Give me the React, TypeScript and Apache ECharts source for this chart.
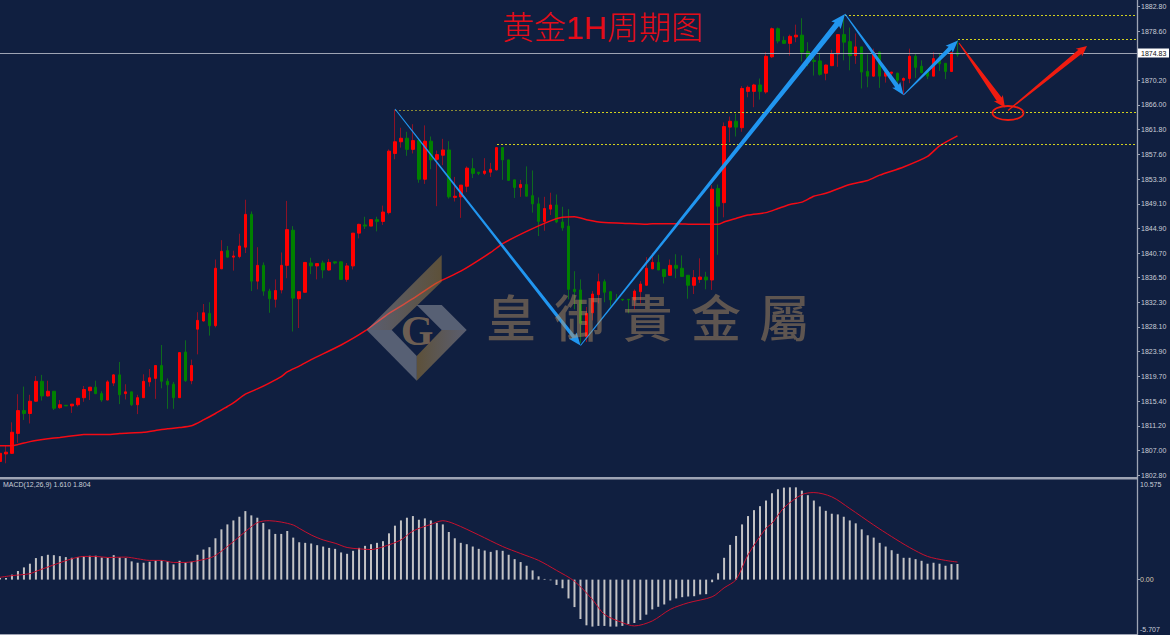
import React, { useEffect, useRef } from "react";
import * as echarts from "echarts";

const opens = [
  1805.1,1806.4,1806.5,1809.9,1813.8,1813.3,1815.4,1818.8,1816.3,1817.1,
  1814.3,1814.7,1814.6,1814.8,1816.0,1817.2,1817.8,1816.7,1815.6,1818.5,
  1819.9,1816.7,1817.0,1814.8,1816.0,1818.7,1819.3,1821.5,1818.8,1818.3,
  1816.0,1823.8,1818.9,1827.7,1829.1,1830.4,1828.3,1838.0,1841.1,1840.0,
  1840.1,1841.7,1847.3,1835.9,1838.6,1834.2,1832.8,1834.4,1838.6,1844.6,
  1832.9,1834.0,1839.0,1838.5,1839.0,1837.8,1839.2,1839.2,1836.2,1838.5,
  1844.1,1845.5,1845.3,1846.4,1846.1,1847.6,1857.7,1859.7,1860.3,1858.4,
  1859.9,1853.3,1859.8,1856.7,1857.4,1858.3,1850.2,1850.3,1852.1,1855.1,
  1854.5,1854.3,1854.5,1854.9,1858.7,1856.6,1853.2,1851.9,1852.4,1850.5,
  1849.1,1846.1,1848.2,1848.9,1846.0,1845.3,1834.5,1834.4,1826.4,1830.5,
  1833.6,1835.8,1834.1,1832.8,1832.8,1832.8,1832.7,1834.1,1835.2,1838.0,
  1839.1,1837.9,1836.9,1838.6,1838.1,1836.9,1835.2,1836.2,1836.6,1836.1,
  1851.7,1849.3,1862.2,1863.2,1862.1,1868.3,1868.3,1869.4,1868.2,1874.2,
  1879.0,1877.0,1876.5,1877.6,1877.9,1875.1,1873.6,1873.5,1871.4,1872.7,
  1874.7,1878.0,1876.8,1874.4,1875.9,1871.7,1870.9,1875.0,1870.9,1871.4,
  1871.4,1870.2,1870.5,1874.3,1872.6,1871.6,1870.9,1873.9,1873.1,1871.7,1874.9,
];
const closes = [
  1806.5,1806.7,1810.1,1813.8,1813.3,1815.4,1818.8,1816.3,1817.1,1814.2,
  1814.8,1814.6,1814.9,1815.9,1817.4,1817.8,1816.7,1815.6,1818.7,1819.9,
  1816.5,1817.0,1814.8,1816.0,1818.8,1819.4,1821.5,1818.8,1818.2,1816.0,
  1823.7,1818.9,1821.5,1829.2,1830.5,1828.3,1838.1,1841.0,1840.0,1840.2,
  1841.9,1847.3,1835.9,1838.6,1834.2,1832.9,1834.3,1838.6,1844.7,1833.0,
  1834.1,1839.1,1838.5,1838.9,1837.8,1839.1,1839.0,1836.2,1838.5,1844.1,
  1845.6,1845.3,1846.4,1846.1,1847.7,1858.1,1859.7,1860.3,1858.4,1859.9,
  1853.3,1859.8,1856.6,1857.5,1858.3,1850.3,1850.4,1852.3,1855.2,1854.3,
  1854.3,1854.7,1855.0,1858.7,1856.6,1853.1,1851.9,1852.4,1850.4,1849.1,
  1846.1,1848.3,1848.9,1846.0,1845.0,1834.5,1834.1,1828.7,1830.4,1833.7,
  1835.8,1834.0,1832.7,1832.7,1832.7,1832.7,1834.2,1835.4,1838.1,1839.1,
  1837.8,1836.7,1838.6,1838.1,1836.7,1835.2,1836.5,1836.6,1836.1,1851.6,
  1848.7,1862.3,1863.2,1862.2,1868.8,1869.0,1869.4,1868.3,1874.3,1879.0,
  1876.9,1876.5,1877.7,1877.9,1875.0,1874.0,1873.4,1871.2,1872.8,1874.7,
  1878.0,1876.7,1874.4,1875.9,1871.6,1870.9,1875.0,1870.9,1871.5,1871.6,
  1870.2,1870.5,1874.3,1872.4,1871.5,1870.9,1873.9,1873.0,1871.7,1874.9,1874.6,
];
const lows = [
  1804.4,1804.8,1806.4,1808.3,1812.2,1811.6,1815.3,1815.5,1816.2,1813.9,
  1814.1,1814.6,1813.4,1814.5,1815.3,1815.6,1816.6,1815.3,1815.6,1818.0,
  1814.9,1815.7,1814.6,1813.2,1816.0,1817.9,1815.8,1817.6,1814.1,1814.1,
  1816.0,1818.7,1818.3,1823.4,1829.0,1826.6,1828.0,1838.0,1839.9,1837.7,
  1839.8,1840.7,1834.2,1834.5,1833.4,1830.5,1831.4,1833.8,1836.4,1827.3,
  1827.9,1834.0,1837.1,1836.2,1836.4,1837.7,1838.8,1836.1,1835.8,1837.9,
  1843.2,1844.8,1845.3,1844.4,1845.5,1847.3,1856.7,1858.7,1857.3,1857.7,
  1852.7,1852.5,1855.0,1848.7,1855.7,1850.0,1849.5,1846.7,1851.1,1853.5,
  1854.0,1854.0,1853.7,1854.8,1853.2,1853.1,1850.1,1850.3,1850.4,1847.6,
  1843.6,1844.5,1847.2,1845.8,1844.5,1832.8,1831.1,1825.3,1825.5,1829.2,
  1832.1,1832.3,1831.6,1832.5,1832.5,1830.4,1831.1,1832.1,1835.2,1838.0,
  1837.8,1835.5,1836.9,1836.4,1836.6,1832.9,1833.7,1835.6,1834.5,1834.4,
  1840.4,1846.8,1859.6,1860.6,1861.4,1867.3,1865.6,1866.9,1867.9,1874.0,
  1876.5,1876.4,1874.4,1876.7,1873.4,1872.6,1871.0,1871.0,1870.2,1872.6,
  1872.5,1873.6,1871.9,1873.0,1868.8,1869.0,1870.8,1868.9,1869.8,1870.2,
  1869.5,1867.7,1869.7,1870.6,1871.4,1870.4,1870.9,1871.8,1870.4,1871.6,1874.2,
];
const highs = [
  1807.2,1807.9,1811.8,1816.6,1817.9,1816.5,1819.7,1819.9,1818.9,1817.1,
  1815.6,1814.7,1814.9,1815.9,1818.0,1817.8,1818.9,1817.1,1819.0,1820.0,
  1822.1,1818.3,1817.0,1816.5,1820.0,1820.9,1821.5,1825.0,1819.3,1818.7,
  1823.7,1825.8,1822.5,1830.6,1832.0,1832.3,1839.6,1842.9,1841.9,1841.1,
  1844.0,1849.8,1847.8,1841.7,1839.1,1834.6,1836.2,1840.8,1849.6,1845.3,
  1834.1,1839.1,1839.9,1838.9,1839.4,1839.7,1839.2,1839.2,1839.0,1844.1,
  1845.7,1846.9,1846.4,1846.9,1848.8,1858.4,1865.2,1862.1,1861.4,1862.7,
  1860.2,1862.5,1860.6,1858.2,1860.2,1859.8,1853.7,1852.3,1855.5,1856.9,
  1854.5,1856.9,1856.1,1858.7,1858.7,1856.6,1853.2,1853.2,1855.5,1854.8,
  1850.2,1850.3,1851.0,1850.7,1848.6,1848.2,1837.6,1836.2,1831.5,1834.2,
  1837.2,1836.2,1834.1,1833.7,1832.8,1832.8,1834.5,1835.9,1840.0,1840.7,
  1840.4,1837.9,1839.6,1840.5,1840.3,1836.9,1837.8,1839.8,1837.5,1852.3,
  1852.4,1863.0,1864.0,1864.5,1869.2,1869.3,1869.6,1870.5,1875.0,1879.2,
  1879.2,1877.7,1878.0,1879.7,1880.8,1876.7,1874.7,1874.7,1872.9,1875.4,
  1878.1,1881.3,1879.2,1878.2,1875.9,1874.6,1875.6,1875.1,1871.5,1871.6,
  1871.5,1870.7,1875.6,1874.7,1873.6,1871.6,1875.0,1874.7,1873.1,1875.0,1877.0,
];

const maIndex = [0,2,3,5,6,8,10,13,14,18,20,24,26,28,30,32,34,36,38,39,41,43,45,47,48,50,52,57,61,65,69,73,77,82,84,88,92,94,96,98,101,104,108,109,113,116,120,121,123,125,128,130,132,134,136,138,142,145,147,151,155,157,160];
const maValue = [1807.8,1807.8,1808.0,1808.5,1808.7,1809.0,1809.2,1809.6,1809.7,1809.7,1809.9,1810.1,1810.4,1810.7,1810.9,1811.2,1812.2,1813.3,1814.5,1815.1,1816.6,1817.5,1818.5,1819.6,1820.4,1821.4,1822.5,1825.0,1827.4,1830.4,1832.9,1835.6,1837.6,1840.8,1842.3,1844.4,1846.2,1846.8,1846.9,1846.4,1845.9,1845.8,1845.6,1845.7,1845.7,1845.6,1845.6,1846.0,1846.6,1847.2,1847.6,1848.3,1849.0,1849.4,1850.4,1850.9,1852.4,1853.1,1854.0,1855.4,1857.2,1859.0,1860.7];

const macdHist = [
  0.17,0.17,0.51,0.89,1.26,1.64,2.22,2.42,2.56,2.52,
  2.42,2.32,2.25,2.32,2.42,2.46,2.46,2.28,2.25,2.52,
  2.28,2.22,1.88,1.74,1.74,1.84,1.98,1.98,1.88,1.57,
  1.94,1.77,1.84,2.56,3.10,3.34,4.26,5.18,5.69,6.10,
  6.48,7.06,6.62,6.38,5.83,5.18,4.71,4.71,5.01,4.33,
  3.85,3.79,3.72,3.55,3.41,3.27,3.17,2.80,2.66,2.97,
  3.27,3.48,3.65,3.79,3.96,4.77,5.56,6.10,6.38,6.55,
  6.17,6.31,6.10,5.83,5.69,4.91,4.26,3.79,3.65,3.41,
  3.17,3.00,2.86,3.03,2.97,2.56,2.11,1.81,1.43,0.95,
  0.34,0.07,-0.07,-0.55,-0.89,-1.94,-2.83,-4.06,-4.71,-4.84,
  -4.77,-4.77,-4.84,-4.84,-4.77,-4.57,-4.47,-4.16,-3.61,-3.07,
  -2.80,-2.56,-2.15,-1.94,-1.81,-1.74,-1.71,-1.53,-1.50,-0.27,
  0.65,2.25,3.58,4.50,5.69,6.55,7.16,7.57,8.15,8.90,
  9.31,9.48,9.51,9.51,9.17,8.70,8.15,7.54,7.09,6.79,
  6.72,6.48,6.10,5.80,5.18,4.57,4.33,3.79,3.41,3.03,
  2.66,2.25,2.25,2.11,1.94,1.64,1.74,1.64,1.43,1.60,1.61,
];
const signalIndex = [0,2,5,6,8,10,12,14,16,18,21,23,25,27,29,31,33,35,36,38,40,42,43,44,45,47,49,50,52,54,56,58,60,62,64,67,69,72,74,76,80,84,87,90,93,96,99,101,104,106,109,112,115,119,121,123,125,128,129,131,134,136,139,142,146,149,152,155,158,160];
const signalValue = [0.24,0.41,0.61,0.85,1.30,1.74,2.15,2.39,2.39,2.28,2.32,2.15,1.98,1.98,1.77,1.77,1.94,2.22,2.49,3.41,4.43,5.46,5.87,6.04,6.07,5.93,5.63,5.29,4.60,4.09,3.75,3.31,3.17,3.10,3.38,4.09,5.01,5.69,6.07,5.73,4.60,3.41,2.69,1.98,0.95,-0.17,-2.05,-3.58,-4.43,-4.77,-4.26,-3.07,-2.39,-1.77,-0.85,0,2.56,5.29,5.80,7.40,8.76,8.97,8.53,7.33,5.63,4.43,3.31,2.39,1.98,1.81];

const priceTicks = [1882.8,1878.6,1870.2,1866.0,1861.8,1857.6,1853.3,1849.1,1844.9,1840.7,1836.5,1832.3,1828.1,1823.9,1819.7,1815.4,1811.2,1807.0,1802.8];
const lastPrice = 1874.83;
const watermarkChars = ["皇", "御", "貴", "金", "屬"];
const categories = Array.from({ length: 191 }, (_, i) => String(i));

const BG = "#101f40";
const AXIS = "#9ea4b4";
const LABEL = "#c9ced8";
const UI_FONT = "'Liberation Sans', Arial, sans-serif";

type P = [number, number];
function arrow(a: P, b: P, w0: number, w1: number, headLen: number, headW: number, fill: string, z = 40) {
  const dx = b[0] - a[0], dy = b[1] - a[1];
  const len = Math.hypot(dx, dy);
  const ux = dx / len, uy = dy / len, nx = -uy, ny = ux;
  const nk: P = [b[0] - ux * headLen, b[1] - uy * headLen];
  const barb: P = [nk[0] - ux * 1.5, nk[1] - uy * 1.5];
  return {
    type: "polygon", z, silent: true,
    shape: { points: [
      [a[0] + nx * w0 / 2, a[1] + ny * w0 / 2],
      [nk[0] + nx * w1 / 2, nk[1] + ny * w1 / 2],
      [barb[0] + nx * headW / 2, barb[1] + ny * headW / 2],
      b,
      [barb[0] - nx * headW / 2, barb[1] - ny * headW / 2],
      [nk[0] - nx * w1 / 2, nk[1] - ny * w1 / 2],
      [a[0] - nx * w0 / 2, a[1] - ny * w0 / 2],
    ] },
    style: { fill },
  };
}
function dash(x1: number, x2: number, y: number, stroke: string) {
  return {
    type: "line", z: 30, silent: true,
    shape: { x1, y1: y, x2, y2: y },
    style: { stroke, lineWidth: 1, lineDash: [2, 2] },
  };
}

export default function App() {
  const ref = useRef<HTMLDivElement>(null);
  useEffect(() => {
    document.body.style.margin = "0";
    document.body.style.background = BG;
    const chart = echarts.init(ref.current!, undefined, { renderer: "svg" });

    const full = opens.map((o, i) => [o, closes[i], lows[i], highs[i]]);
    const bodies = opens.map((o, i) => [o, closes[i], Math.min(o, closes[i]), Math.max(o, closes[i])]);
    const BLUE = "#2196f0";
    const RED = "#f01c10";
    const wmFill = "rgba(190,150,100,0.45)";
    const greyFill = "rgba(175,175,180,0.45)";
    const brownGrad = (x0: number, x1: number) => new echarts.graphic.LinearGradient(x0, 0, x1, 0, [
      { offset: 0, color: "rgba(180,170,170,0.45)" },
      { offset: 1, color: "rgba(170,130,50,0.5)" },
    ]);

    const yellow = "#d2d21e";
    const dimYellow = "#8c8c34";

    const graphic: any[] = [
      { type: "rect", z: 20, silent: true, shape: { x: 0, y: 477, width: 1137, height: 2.5 }, style: { fill: AXIS } },
      { type: "rect", z: 20, silent: true, shape: { x: 0, y: 634, width: 1137, height: 1 }, style: { fill: AXIS } },
      dash(395, 582, 110.5, dimYellow),
      dash(582, 1137, 112.5, yellow),
      dash(497, 1137, 144.5, yellow),
      dash(845, 1137, 15.5, yellow),
      dash(958, 1137, 39.5, yellow),
      arrow([395, 109], [580.5, 345.5], 1, 3.5, 11, 10, BLUE),
      arrow([580.5, 345.5], [845, 14], 1, 5.5, 13, 12, BLUE),
      arrow([845, 14], [903.5, 95], 1, 4.5, 11, 10, BLUE),
      arrow([903.5, 95], [958, 40.5], 1, 4.5, 11, 10, BLUE),
      arrow([959, 43], [1005, 107.5], 1, 6, 10, 11, RED),
      arrow([1008, 110.5], [1087, 46], 1, 5, 9, 10, RED),
      {
        type: "ellipse", z: 41, silent: true,
        shape: { cx: 1008, cy: 113, rx: 15.5, ry: 7 },
        style: { fill: "none", stroke: RED, lineWidth: 1.8 },
      },
      {
        type: "text", z: 45, silent: true, x: 502, y: 28,
        style: {
          text: "黄金1H周期图", fill: "#e40c18",
          font: "300 32px 'Liberation Sans', 'Noto Sans CJK SC', sans-serif",
          verticalAlign: "middle", align: "left",
        },
      },
      { type: "polygon", z: 60, silent: true, shape: { points: [[366.7, 330], [441.7, 255], [441.7, 281.7], [391.7, 330]] }, style: { fill: brownGrad(0, 1) } },
      { type: "polygon", z: 60, silent: true, shape: { points: [[416.7, 305], [441.7, 305], [466.7, 330], [441.7, 330]] }, style: { fill: greyFill } },
      { type: "polygon", z: 60, silent: true, shape: { points: [[441.7, 330], [466.7, 330], [416.7, 380.7], [416.7, 356]] }, style: { fill: brownGrad(1, 0) } },
      { type: "polygon", z: 60, silent: true, shape: { points: [[366.7, 330], [391.7, 330], [416.7, 356], [416.7, 380.7]] }, style: { fill: greyFill } },
      {
        type: "text", z: 60, silent: true, x: 417, y: 331,
        style: { text: "G", fill: "rgba(190,150,100,0.55)", font: "700 42px 'Liberation Serif', serif", align: "center", verticalAlign: "middle" },
      },
      ...watermarkChars.map((c, i) => ({
        type: "text", z: 60, silent: true, x: 486 + i * 68.3, y: 315,
        style: { text: c, fill: wmFill, font: "500 50px 'Noto Sans CJK TC', sans-serif", align: "left", verticalAlign: "middle" },
      })),
      { type: "rect", z: 70, silent: true, shape: { x: 1138, y: 48.5, width: 31, height: 9 }, style: { fill: "#ffffff" } },
      {
        type: "text", z: 71, silent: true, x: 1141, y: 53,
        style: { text: lastPrice.toFixed(2), fill: "#101010", font: `7px ${UI_FONT}`, verticalAlign: "middle", align: "left" },
      },
      {
        type: "text", z: 71, silent: true, x: 3, y: 484.5,
        style: { text: "MACD(12,26,9) 1.610 1.804", fill: LABEL, font: `7px ${UI_FONT}`, verticalAlign: "middle", align: "left" },
      },
      {
        type: "text", z: 71, silent: true, x: 1140, y: 484.5,
        style: { text: "10.575", fill: LABEL, font: `7px ${UI_FONT}`, verticalAlign: "middle", align: "left" },
      },
      {
        type: "text", z: 71, silent: true, x: 1140, y: 629,
        style: { text: "-5.707", fill: LABEL, font: `7px ${UI_FONT}`, verticalAlign: "middle", align: "left" },
      },
    ];

    chart.setOption({
      animation: false,
      backgroundColor: BG,
      grid: [
        { left: 0, top: 0.5, width: 1137, height: 476.5 },
        { left: 0, top: 477, width: 1137, height: 158.7 },
      ],
      xAxis: [0, 1].map((gridIndex) => ({
        type: "category", gridIndex, data: categories, boundaryGap: false,
        axisLine: { show: false }, axisTick: { show: false }, axisLabel: { show: false }, splitLine: { show: false },
      })),
      yAxis: [
        {
          type: "value", gridIndex: 0, position: "right", min: 1802.46, max: 1883.82, scale: true,
          axisLine: { show: true, lineStyle: { color: AXIS, width: 1.3 } },
          axisTick: { show: true, length: 3, inside: false, customValues: priceTicks, lineStyle: { color: AXIS } },
          axisLabel: {
            show: true, customValues: priceTicks, margin: 4, color: LABEL, fontSize: 7, fontFamily: UI_FONT, padding: [1, 0, 0, 0],
            formatter: (v: number) => v.toFixed(2),
          },
          splitLine: { show: false },
        },
        {
          type: "value", gridIndex: 1, position: "right", min: -5.707, max: 10.575,
          axisLine: { show: true, lineStyle: { color: AXIS, width: 1.3 } },
          axisTick: { show: true, length: 3, customValues: [0], lineStyle: { color: AXIS } },
          axisLabel: {
            show: true, customValues: [0], margin: 3, color: "#d8c8b0", fontSize: 7, fontFamily: UI_FONT, padding: [1, 0, 0, 0],
            formatter: (v: number) => v.toFixed(2),
          },
          splitLine: { show: false },
        },
      ],
      series: [
        {
          type: "candlestick", name: "wick", xAxisIndex: 0, yAxisIndex: 0, data: full, barWidth: 1, z: 2,
          itemStyle: { color: "#8c1226", color0: "#0e6a1e", borderColor: "#8c1226", borderColor0: "#0e6a1e", borderWidth: 1 },
          markLine: {
            silent: true, symbol: "none", animation: false, label: { show: false },
            lineStyle: { color: AXIS, width: 1, type: "solid" }, data: [{ yAxis: lastPrice }],
          },
        },
        {
          type: "candlestick", name: "body", xAxisIndex: 0, yAxisIndex: 0, data: bodies, barWidth: 3, z: 3,
          itemStyle: { color: "#ff0000", color0: "#008000", borderColor: "#ff0000", borderColor0: "#008000", borderWidth: 1 },
        },
        {
          type: "line", name: "MA", xAxisIndex: 0, yAxisIndex: 0, z: 4, showSymbol: false, symbol: "none", smooth: 0.2,
          data: maIndex.map((k, i) => [k, maValue[i]]),
          lineStyle: { color: "#f40a14", width: 1.5 },
        },
        {
          type: "bar", name: "MACD", xAxisIndex: 1, yAxisIndex: 1, barWidth: 2, z: 2,
          data: macdHist, itemStyle: { color: "#c2c2c4" },
        },
        {
          type: "line", name: "Signal", xAxisIndex: 1, yAxisIndex: 1, z: 4, showSymbol: false, symbol: "none", smooth: 0.3,
          data: signalIndex.map((k, i) => [k, signalValue[i]]),
          lineStyle: { color: "#c8102e", width: 1 },
        },
      ],
      graphic,
    });
    return () => chart.dispose();
  }, []);
  return <div ref={ref} style={{ position: "absolute", left: 0, top: 0, width: 1170, height: 635 }} />;
}
